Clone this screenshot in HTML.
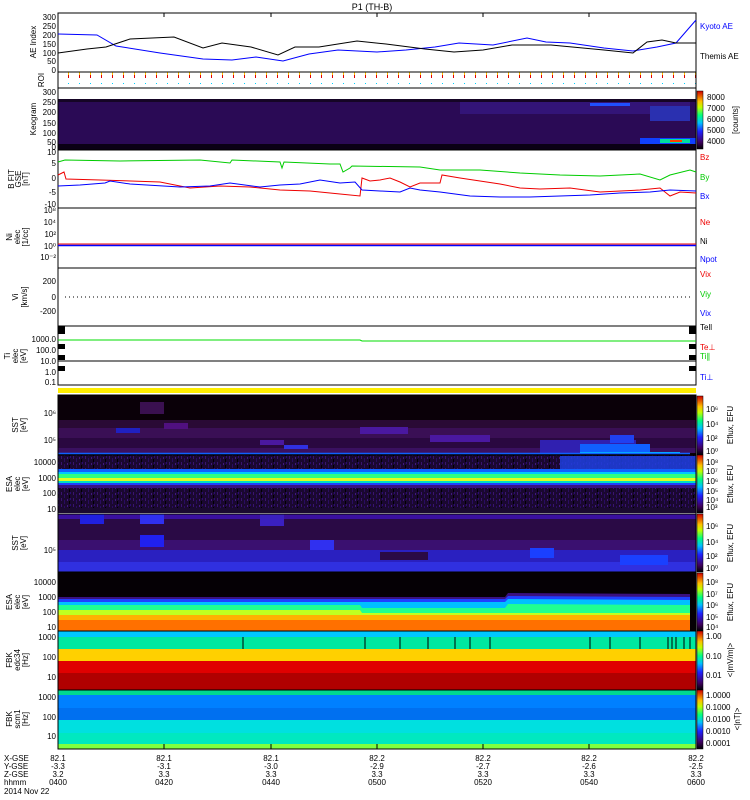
<!DOCTYPE html>
<html><head><meta charset="utf-8"><style>
body{margin:0;background:#fff}
svg{display:block;font-family:"Liberation Sans",sans-serif}
.t{font-size:9px}
.s{font-size:8px}
</style></head><body>
<svg width="750" height="800" viewBox="0 0 750 800" xmlns="http://www.w3.org/2000/svg">
<defs>
<linearGradient id="rb" x1="0" y1="1" x2="0" y2="0">
<stop offset="0" stop-color="#000"/><stop offset="0.12" stop-color="#400060"/><stop offset="0.3" stop-color="#2020ff"/><stop offset="0.45" stop-color="#00c0ff"/><stop offset="0.58" stop-color="#00ff80"/><stop offset="0.72" stop-color="#c0ff00"/><stop offset="0.82" stop-color="#ffc000"/><stop offset="1" stop-color="#d00000"/>
</linearGradient>
<pattern id="noise" width="12" height="6" patternUnits="userSpaceOnUse">
<rect width="12" height="6" fill="#1a0830"/><rect x="1" y="0" width="1" height="3" fill="#3a1470"/><rect x="4" y="2" width="1" height="4" fill="#2a0c60"/><rect x="7" y="1" width="1" height="2" fill="#401880"/><rect x="9" y="3" width="1" height="3" fill="#000"/><rect x="10" y="0" width="1" height="2" fill="#2a0c70"/>
</pattern>
<pattern id="roi" width="11" height="16" patternUnits="userSpaceOnUse">
<rect x="2" y="3" width="1" height="1" fill="#00d0ff"/><rect x="2" y="8" width="1" height="3" fill="#ffc000"/><rect x="2" y="11" width="1" height="3" fill="#e00000"/>
</pattern>
</defs>
<text x="372" y="10" class="t" text-anchor="middle">P1 (TH-B)</text>

<!-- AE panel -->
<rect x="58" y="13" width="638" height="59" fill="none" stroke="#000"/>
<polyline fill="none" stroke="#00f" points="58,34 97,35 116,46 160,53 203,59 232,60 256,57 283,61 309,54 338,50 377,52 406,50 435,47 459,43 493,45 527,38 546,42 570,43 604,48 633,51 657,47 676,43 696,20"/>
<polyline fill="none" stroke="#000" points="58,53 87,49 106,47 130,39 174,37 203,48 222,43 251,47 278,55 295,47 319,47 357,41 386,44 425,49 454,52 483,50 512,45 551,45 604,50 633,53 647,42 662,40 676,43 696,43"/>
<g class="s" text-anchor="end"><text x="56" y="20">300</text><text x="56" y="29">250</text><text x="56" y="38">200</text><text x="56" y="47">150</text><text x="56" y="56">100</text><text x="56" y="64">50</text><text x="56" y="73">0</text></g>
<text class="s" transform="translate(36,42) rotate(-90)" text-anchor="middle">AE Index</text>
<text x="700" y="29" class="s" fill="#00f">Kyoto AE</text>
<text x="700" y="59" class="s">Themis AE</text>
<!-- ROI -->
<rect x="58" y="72" width="638" height="16" fill="url(#roi)" stroke="#000"/>
<text class="s" transform="translate(44,80) rotate(-90)" text-anchor="middle">ROI</text>
<!-- Keogram -->
<rect x="58" y="99" width="638" height="51" fill="#2a0a55"/>
<rect x="58" y="99" width="638" height="3" fill="#150525"/>
<rect x="58" y="144" width="638" height="6" fill="#0a0015"/>
<rect x="460" y="102" width="230" height="12" fill="#3a1a90" opacity="0.6"/>
<rect x="590" y="103" width="40" height="3" fill="#2050ff"/>
<rect x="650" y="106" width="40" height="15" fill="#2a30b0"/>
<rect x="640" y="138" width="56" height="6" fill="#1040ff"/>
<rect x="660" y="139" width="30" height="4" fill="#00e0a0"/>
<rect x="670" y="140" width="12" height="2" fill="#ff4000"/>
<rect x="58" y="88" width="638" height="62" fill="none" stroke="#000"/>
<g class="s" text-anchor="end"><text x="56" y="95">300</text><text x="56" y="105">250</text><text x="56" y="115">200</text><text x="56" y="126">150</text><text x="56" y="136">100</text><text x="56" y="145">50</text><text x="56" y="150">0</text></g>
<text class="s" transform="translate(36,119) rotate(-90)" text-anchor="middle">Keogram</text>
<rect x="697" y="91" width="6" height="58" fill="url(#rb)" stroke="#000" stroke-width="0.5"/>
<g class="s"><text x="707" y="100">8000</text><text x="707" y="111">7000</text><text x="707" y="122">6000</text><text x="707" y="133">5000</text><text x="707" y="144">4000</text></g>
<text class="s" transform="translate(738,120) rotate(-90)" text-anchor="middle">[counts]</text>
<!-- B field -->
<rect x="58" y="150" width="638" height="58" fill="none" stroke="#000"/>
<polyline fill="none" stroke="#0c0" stroke-width="1" points="58,162 65,160 120,161 200,160 230,163 232,160 280,162 282,168 284,162 330,164 340,164 343,172 350,168 352,166 420,167 440,170 480,170 520,173 560,175 600,176 640,174 660,180 670,175 690,170 696,172"/>
<polyline fill="none" stroke="#e00" stroke-width="1" points="58,175 64,172 66,179 100,180 160,182 190,188 220,186 250,187 280,190 310,191 340,194 360,196 362,178 370,181 380,180 390,178 400,182 410,187 420,183 440,183 442,175 460,178 500,184 520,188 540,189 570,188 600,192 640,190 660,188 670,196 680,192 696,193"/>
<polyline fill="none" stroke="#00f" stroke-width="1" points="58,186 80,185 105,183 110,181 130,184 180,187 210,186 230,183 260,187 280,185 300,184 320,180 340,183 355,182 362,190 380,191 400,192 410,188 420,190 440,192 470,196 500,197 530,197 560,196 590,195 620,193 650,192 670,190 696,191"/>
<g class="s" text-anchor="end"><text x="56" y="155">10</text><text x="56" y="166">5</text><text x="56" y="181">0</text><text x="56" y="195">-5</text><text x="56" y="207">-10</text></g>
<text class="s" transform="translate(14,179) rotate(-90)" text-anchor="middle">B FIT</text>
<text class="s" transform="translate(21,179) rotate(-90)" text-anchor="middle">GSE</text>
<text class="s" transform="translate(28,179) rotate(-90)" text-anchor="middle">[nT]</text>
<text x="700" y="160" class="s" fill="#e00">Bz</text>
<text x="700" y="180" class="s" fill="#0c0">By</text>
<text x="700" y="199" class="s" fill="#00f">Bx</text>
<!-- Ni -->
<rect x="58" y="208" width="638" height="60" fill="none" stroke="#000"/>
<line x1="58" y1="244" x2="696" y2="244" stroke="#e00"/>
<line x1="58" y1="245.5" x2="696" y2="245.5" stroke="#00f" stroke-width="1.5"/>
<g class="s" text-anchor="end"><text x="56" y="213">10⁸</text><text x="56" y="225">10⁴</text><text x="56" y="237">10²</text><text x="56" y="249">10⁰</text><text x="56" y="260">10⁻²</text></g>
<text class="s" transform="translate(12,237) rotate(-90)" text-anchor="middle">Ni</text>
<text class="s" transform="translate(20,237) rotate(-90)" text-anchor="middle">elec</text>
<text class="s" transform="translate(28,237) rotate(-90)" text-anchor="middle">[1/cc]</text>
<text x="700" y="225" class="s" fill="#e00">Ne</text>
<text x="700" y="244" class="s">Ni</text>
<text x="700" y="262" class="s" fill="#00f">Npot</text>
<!-- Vi -->
<rect x="58" y="268" width="638" height="58" fill="none" stroke="#000"/>
<line x1="65" y1="297" x2="690" y2="297" stroke="#000" stroke-dasharray="1,3"/>
<g class="s" text-anchor="end"><text x="56" y="284">200</text><text x="56" y="300">0</text><text x="56" y="314">-200</text></g>
<text class="s" transform="translate(18,297) rotate(-90)" text-anchor="middle">Vi</text>
<text class="s" transform="translate(27,297) rotate(-90)" text-anchor="middle">[km/s]</text>
<text x="700" y="277" class="s" fill="#e00">Vix</text>
<text x="700" y="297" class="s" fill="#0c0">Viy</text>
<text x="700" y="316" class="s" fill="#00f">Vix</text>
<!-- Ti -->
<rect x="58" y="326" width="638" height="59" fill="none" stroke="#000"/>
<rect x="58" y="326" width="7" height="8" fill="#000"/><rect x="58" y="344" width="7" height="5" fill="#000"/><rect x="58" y="355" width="7" height="5" fill="#000"/><rect x="58" y="366" width="7" height="5" fill="#000"/>
<rect x="689" y="326" width="7" height="8" fill="#000"/><rect x="689" y="344" width="7" height="5" fill="#000"/><rect x="689" y="355" width="7" height="5" fill="#000"/><rect x="689" y="366" width="7" height="5" fill="#000"/>
<polyline fill="none" stroke="#0d0" points="58,340 360,340 362,341 696,341"/>
<line x1="58" y1="361" x2="696" y2="361" stroke="#000"/>
<g class="s" text-anchor="end"><text x="56" y="342">1000.0</text><text x="56" y="353">100.0</text><text x="56" y="364">10.0</text><text x="56" y="375">1.0</text><text x="56" y="385">0.1</text></g>
<text class="s" transform="translate(10,356) rotate(-90)" text-anchor="middle">Ti</text>
<text class="s" transform="translate(18,356) rotate(-90)" text-anchor="middle">elec</text>
<text class="s" transform="translate(26,356) rotate(-90)" text-anchor="middle">[eV]</text>
<text x="700" y="330" class="s">Tell</text>
<text x="700" y="350" class="s" fill="#e00">Te⊥</text>
<text x="700" y="359" class="s" fill="#0c0">Ti∥</text>
<text x="700" y="380" class="s" fill="#00f">Ti⊥</text>
<!-- yellow bar -->
<rect x="58" y="388" width="638" height="5" fill="#ffee00"/>

<!-- SST1 -->
<rect x="58" y="395" width="638" height="60" fill="#0a0008"/>
<g>
<rect x="58" y="420" width="638" height="8" fill="#2a0a35"/>
<rect x="58" y="428" width="638" height="10" fill="#3a0f55"/>
<rect x="58" y="438" width="638" height="10" fill="#2a0840"/>
<rect x="58" y="448" width="638" height="5" fill="#3a1060"/>
<rect x="140" y="402" width="24" height="12" fill="#3a1050"/>
<rect x="116" y="428" width="24" height="5" fill="#2020c0"/>
<rect x="164" y="423" width="24" height="6" fill="#501080"/>
<rect x="260" y="440" width="24" height="5" fill="#4a18a0"/>
<rect x="284" y="445" width="24" height="4" fill="#3030e0"/>
<rect x="360" y="427" width="48" height="7" fill="#4a18a0"/>
<rect x="430" y="435" width="60" height="7" fill="#4a18a0"/>
<rect x="540" y="440" width="96" height="13" fill="#3020b0"/>
<rect x="580" y="444" width="70" height="8" fill="#1060ff"/>
<rect x="610" y="435" width="24" height="8" fill="#2040f0"/>
<rect x="580" y="452" width="100" height="2" fill="#00c0ff"/>
<line x1="58" y1="453.5" x2="690" y2="453.5" stroke="#1060ff" stroke-width="1.5"/>
</g>
<g class="s" text-anchor="end"><text x="56" y="416">10⁶</text><text x="56" y="443">10⁵</text></g>
<text class="s" transform="translate(18,425) rotate(-90)" text-anchor="middle">SST</text>
<text class="s" transform="translate(26,425) rotate(-90)" text-anchor="middle">[eV]</text>
<rect x="697" y="396" width="6" height="59" fill="url(#rb)" stroke="#000" stroke-width="0.5"/>
<g class="s"><text x="706" y="412">10⁶</text><text x="706" y="427">10⁴</text><text x="706" y="441">10²</text><text x="706" y="454">10⁰</text></g>
<text class="s" transform="translate(733,425) rotate(-90)" text-anchor="middle">Eflux, EFU</text>

<!-- ESA1 -->
<rect x="58" y="455" width="638" height="58" fill="url(#noise)"/>
<rect x="560" y="456" width="136" height="14" fill="#2040e0" opacity="0.85"/>
<rect x="58" y="469" width="638" height="3" fill="#1060ff"/>
<rect x="58" y="472" width="638" height="2" fill="#00c8ff"/>
<rect x="58" y="474" width="638" height="4" fill="#30ff80"/>
<rect x="58" y="478" width="638" height="3" fill="#e0ff20"/>
<rect x="58" y="481" width="638" height="2" fill="#00e0c0"/>
<rect x="58" y="483" width="638" height="2" fill="#2040ff"/>
<rect x="58" y="485" width="638" height="3" fill="#3a1080"/>
<rect x="58" y="508" width="638" height="5" fill="#1a0a30"/>
<g class="s" text-anchor="end"><text x="56" y="465">10000</text><text x="56" y="481">1000</text><text x="56" y="496">100</text><text x="56" y="512">10</text></g>
<text class="s" transform="translate(12,484) rotate(-90)" text-anchor="middle">ESA</text>
<text class="s" transform="translate(20,484) rotate(-90)" text-anchor="middle">elec</text>
<text class="s" transform="translate(28,484) rotate(-90)" text-anchor="middle">[eV]</text>
<rect x="697" y="455" width="6" height="58" fill="url(#rb)" stroke="#000" stroke-width="0.5"/>
<g class="s"><text x="706" y="465">10⁸</text><text x="706" y="474">10⁷</text><text x="706" y="484">10⁶</text><text x="706" y="494">10⁵</text><text x="706" y="503">10⁴</text><text x="706" y="510">10³</text></g>
<text class="s" transform="translate(733,484) rotate(-90)" text-anchor="middle">Eflux, EFU</text>

<!-- SST2 -->
<rect x="58" y="514" width="638" height="58" fill="#2a0a45"/>
<rect x="58" y="514" width="638" height="5" fill="#3a10a0"/>
<rect x="58" y="540" width="638" height="10" fill="#3a1070"/>
<rect x="58" y="550" width="638" height="12" fill="#2a20c0"/>
<rect x="58" y="562" width="638" height="10" fill="#3030e0"/>
<rect x="80" y="514" width="24" height="10" fill="#2020e0"/>
<rect x="140" y="514" width="24" height="10" fill="#3030f0"/>
<rect x="260" y="514" width="24" height="12" fill="#3a20c0"/>
<rect x="140" y="535" width="24" height="12" fill="#2020f0"/>
<rect x="310" y="540" width="24" height="10" fill="#3030f0"/>
<rect x="530" y="548" width="24" height="10" fill="#1a40ff"/>
<rect x="620" y="555" width="48" height="10" fill="#1a40ff"/>
<rect x="380" y="552" width="48" height="8" fill="#2a0a45"/>
<g class="s" text-anchor="end"><text x="56" y="553">10⁵</text></g>
<text class="s" transform="translate(18,543) rotate(-90)" text-anchor="middle">SST</text>
<text class="s" transform="translate(26,543) rotate(-90)" text-anchor="middle">[eV]</text>
<rect x="697" y="514" width="6" height="58" fill="url(#rb)" stroke="#000" stroke-width="0.5"/>
<g class="s"><text x="706" y="529">10⁶</text><text x="706" y="545">10⁴</text><text x="706" y="559">10²</text><text x="706" y="571">10⁰</text></g>
<text class="s" transform="translate(733,543) rotate(-90)" text-anchor="middle">Eflux, EFU</text>

<!-- ESA2 -->
<rect x="58" y="572" width="638" height="59" fill="#050005"/>
<polygon fill="#3a1080" points="58,597 505,597 508,593 690,594 690,631 58,631"/>
<polygon fill="#2040ff" points="58,599 505,599 508,596 690,597 690,631 58,631"/>
<polygon fill="#00c0ff" points="58,602 505,602 508,599 690,600 690,631 58,631"/>
<polygon fill="#20ff90" points="58,605 360,605 362,608 505,608 508,604 690,605 690,631 58,631"/>
<polygon fill="#c0ff20" points="58,610 360,610 362,613 690,613 690,631 58,631"/>
<rect x="58" y="615" width="632" height="5" fill="#ffb000"/>
<rect x="58" y="620" width="632" height="11" fill="#ff7000"/>
<g class="s" text-anchor="end"><text x="56" y="585">10000</text><text x="56" y="600">1000</text><text x="56" y="615">100</text><text x="56" y="630">10</text></g>
<text class="s" transform="translate(12,602) rotate(-90)" text-anchor="middle">ESA</text>
<text class="s" transform="translate(20,602) rotate(-90)" text-anchor="middle">elec</text>
<text class="s" transform="translate(28,602) rotate(-90)" text-anchor="middle">[eV]</text>
<rect x="697" y="573" width="6" height="58" fill="url(#rb)" stroke="#000" stroke-width="0.5"/>
<g class="s"><text x="706" y="585">10⁸</text><text x="706" y="597">10⁷</text><text x="706" y="608">10⁶</text><text x="706" y="620">10⁵</text><text x="706" y="630">10⁴</text></g>
<text class="s" transform="translate(733,602) rotate(-90)" text-anchor="middle">Eflux, EFU</text>

<!-- FBK1 -->
<rect x="58" y="631" width="638" height="6" fill="#00c8ff"/>
<rect x="58" y="637" width="638" height="12" fill="#00e8a0"/>
<rect x="58" y="649" width="638" height="12" fill="#ffd000"/>
<rect x="58" y="661" width="638" height="12" fill="#e00000"/>
<rect x="58" y="673" width="638" height="17" fill="#b00000"/>
<g stroke="#000" stroke-width="1">
<line x1="243" y1="637" x2="243" y2="649"/><line x1="365" y1="637" x2="365" y2="649"/><line x1="400" y1="637" x2="400" y2="649"/><line x1="428" y1="637" x2="428" y2="649"/><line x1="455" y1="637" x2="455" y2="649"/><line x1="470" y1="637" x2="470" y2="649"/><line x1="490" y1="637" x2="490" y2="649"/><line x1="590" y1="637" x2="590" y2="649"/><line x1="610" y1="637" x2="610" y2="649"/><line x1="640" y1="637" x2="640" y2="649"/><line x1="668" y1="637" x2="668" y2="649"/><line x1="672" y1="637" x2="672" y2="649"/><line x1="676" y1="637" x2="676" y2="649"/><line x1="684" y1="637" x2="684" y2="649"/><line x1="690" y1="637" x2="690" y2="649"/>
</g>
<g class="s" text-anchor="end"><text x="56" y="640">1000</text><text x="56" y="660">100</text><text x="56" y="680">10</text></g>
<text class="s" transform="translate(12,660) rotate(-90)" text-anchor="middle">FBK</text>
<text class="s" transform="translate(20,660) rotate(-90)" text-anchor="middle">edc34</text>
<text class="s" transform="translate(28,660) rotate(-90)" text-anchor="middle">[Hz]</text>
<rect x="697" y="631" width="6" height="59" fill="url(#rb)" stroke="#000" stroke-width="0.5"/>
<g class="s"><text x="706" y="639">1.00</text><text x="706" y="659">0.10</text><text x="706" y="678">0.01</text></g>
<text class="s" transform="translate(733,660) rotate(-90)" text-anchor="middle">&lt;|mV/m|&gt;</text>

<!-- FBK2 -->
<rect x="58" y="690" width="638" height="5" fill="#00d890"/>
<rect x="58" y="695" width="638" height="13" fill="#0080ff"/>
<rect x="58" y="708" width="638" height="12" fill="#0070f0"/>
<rect x="58" y="720" width="638" height="13" fill="#00e0e0"/>
<rect x="58" y="733" width="638" height="11" fill="#00e8c0"/>
<rect x="58" y="744" width="638" height="5" fill="#80ff40"/>
<g class="s" text-anchor="end"><text x="56" y="700">1000</text><text x="56" y="720">100</text><text x="56" y="739">10</text></g>
<text class="s" transform="translate(12,719) rotate(-90)" text-anchor="middle">FBK</text>
<text class="s" transform="translate(20,719) rotate(-90)" text-anchor="middle">scm1</text>
<text class="s" transform="translate(28,719) rotate(-90)" text-anchor="middle">[Hz]</text>
<rect x="697" y="690" width="6" height="59" fill="url(#rb)" stroke="#000" stroke-width="0.5"/>
<g class="s"><text x="706" y="698">1.0000</text><text x="706" y="710">0.1000</text><text x="706" y="722">0.0100</text><text x="706" y="734">0.0010</text><text x="706" y="746">0.0001</text></g>
<text class="s" transform="translate(740,719) rotate(-90)" text-anchor="middle">&lt;|nT|&gt;</text>

<rect x="58" y="395" width="638" height="354" fill="none" stroke="#000" stroke-width="1"/>
<g stroke="#000"><line x1="58" y1="455" x2="696" y2="455"/><line x1="58" y1="514" x2="696" y2="514"/><line x1="58" y1="572" x2="696" y2="572"/><line x1="58" y1="631" x2="696" y2="631"/><line x1="58" y1="690" x2="696" y2="690"/></g>
<!-- x ticks -->
<g stroke="#000">
<line x1="164" y1="13" x2="164" y2="17"/><line x1="271" y1="13" x2="271" y2="17"/><line x1="377" y1="13" x2="377" y2="17"/><line x1="483" y1="13" x2="483" y2="17"/><line x1="589" y1="13" x2="589" y2="17"/>
<line x1="164" y1="744" x2="164" y2="749"/><line x1="271" y1="744" x2="271" y2="749"/><line x1="377" y1="744" x2="377" y2="749"/><line x1="483" y1="744" x2="483" y2="749"/><line x1="589" y1="744" x2="589" y2="749"/>
</g>
<!-- bottom labels -->
<g class="s">
<text x="4" y="761">X-GSE</text><text x="4" y="769">Y-GSE</text><text x="4" y="777">Z-GSE</text><text x="4" y="785">hhmm</text><text x="4" y="794">2014 Nov 22</text>
</g>
<g class="s" text-anchor="middle">
<text x="58" y="761">82.1</text><text x="58" y="769">-3.3</text><text x="58" y="777">3.2</text><text x="58" y="785">0400</text>
<text x="164" y="761">82.1</text><text x="164" y="769">-3.1</text><text x="164" y="777">3.3</text><text x="164" y="785">0420</text>
<text x="271" y="761">82.1</text><text x="271" y="769">-3.0</text><text x="271" y="777">3.3</text><text x="271" y="785">0440</text>
<text x="377" y="761">82.2</text><text x="377" y="769">-2.9</text><text x="377" y="777">3.3</text><text x="377" y="785">0500</text>
<text x="483" y="761">82.2</text><text x="483" y="769">-2.7</text><text x="483" y="777">3.3</text><text x="483" y="785">0520</text>
<text x="589" y="761">82.2</text><text x="589" y="769">-2.6</text><text x="589" y="777">3.3</text><text x="589" y="785">0540</text>
<text x="696" y="761">82.2</text><text x="696" y="769">-2.5</text><text x="696" y="777">3.3</text><text x="696" y="785">0600</text>
</g>
</svg>
</body></html>
